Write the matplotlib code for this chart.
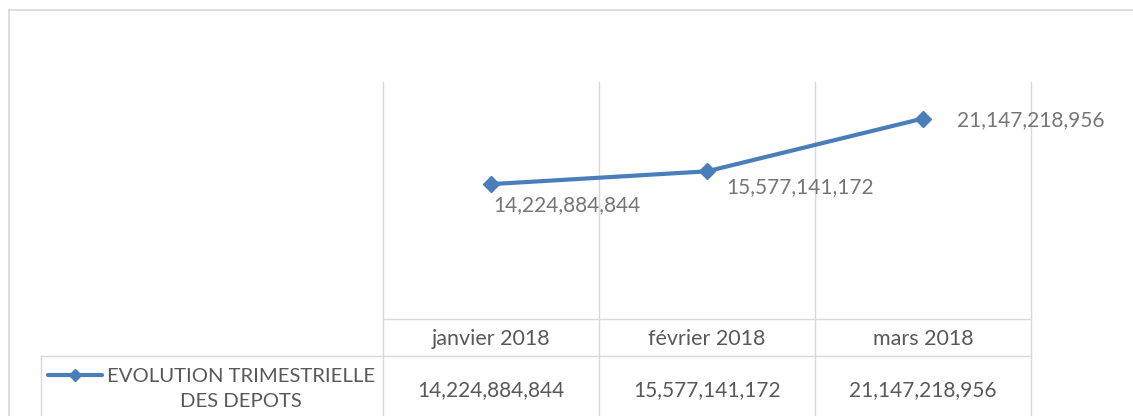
import matplotlib
matplotlib.use("Agg")
import matplotlib.pyplot as plt
from matplotlib.lines import Line2D
from matplotlib.transforms import blended_transform_factory

# data
months = ["janvier 2018", "février 2018", "mars 2018"]
depots = [14224884844, 15577141172, 21147218956]
series_name = "EVOLUTION TRIMESTRIELLE\nDES DEPOTS"

W, H = 1133, 416
BLUE = "#4a7ebb"
GRID = "#d9d9d9"
LABEL_GREY = "#767676"
TEXT_GREY = "#595959"
FONT = "Lato"

plt.rcParams['font.family'] = [FONT, 'DejaVu Sans']


def fy(ypx):
    # pixel row (from top) -> figure fraction
    return 1 - ypx / H


def fx(xpx):
    return xpx / W


fig = plt.figure(figsize=(W / 100, H / 100), dpi=100)

# plot area: x 383..1031, y 82..319 (pixels)
ax = fig.add_axes([fx(383), fy(319), fx(1031) - fx(383), fy(82) - fy(319)])
xs = [i + 0.5 for i in range(len(months))]
ax.plot(xs, depots, color=BLUE, lw=3, marker="D", ms=8.5,
        mec=BLUE, mfc=BLUE, solid_capstyle="round", zorder=3)
ax.set_xlim(0, len(months))
ax.set_ylim(0, 25e9)
ax.axis("off")

# data labels (offsets in pixels from the point)
offsets = [(2, -21, "left"), (19, -16, "left"), (34, -2, "left")]
for x, v, (dx, dy, ha) in zip(xs, depots, offsets):
    ax.annotate("{:,}".format(v), (x, v), textcoords="offset pixels",
                xytext=(dx, dy), ha=ha, va="center", fontsize=15,
                color=LABEL_GREY)

# column borders through plot area and table
trans = blended_transform_factory(ax.transData, fig.transFigure)
for i in range(len(months) + 1):
    ax.plot([i, i], [fy(82), 0], transform=trans, color=GRID, lw=1,
            clip_on=False, zorder=1)

# horizontal table lines
fig.add_artist(Line2D([fx(383), fx(1031)], [fy(319), fy(319)], color=GRID, lw=1))
fig.add_artist(Line2D([fx(41), fx(1031)], [fy(356), fy(356)], color=GRID, lw=1))
fig.add_artist(Line2D([fx(41), fx(41)], [fy(356), 0], color=GRID, lw=1))

# outer chart border
fig.add_artist(Line2D([fx(9), 1], [fy(10), fy(10)], color=GRID, lw=1.2))
fig.add_artist(Line2D([fx(9), fx(9)], [fy(10), 0], color=GRID, lw=1.2))

# table header and values
for x, m, v in zip(xs, months, depots):
    ax.text(x, fy(339), m, transform=trans, ha="center", va="center",
            fontsize=15.5, color=TEXT_GREY)
    ax.text(x, fy(390), "{:,}".format(v), transform=trans, ha="center",
            va="center", fontsize=15, color=TEXT_GREY)

# legend key in table
fig.add_artist(Line2D([fx(48), fx(102)], [fy(375), fy(375)], color=BLUE,
                      lw=3, solid_capstyle="round"))
fig.add_artist(Line2D([fx(75)], [fy(375)], color=BLUE, marker="D", ms=6,
                      mec=BLUE, mfc=BLUE))
fig.text(fx(241), fy(389), series_name, ha="center", va="center",
         multialignment="center", fontsize=14.6, color=TEXT_GREY,
         linespacing=1.6)

fig.savefig("out.png", dpi=100)
